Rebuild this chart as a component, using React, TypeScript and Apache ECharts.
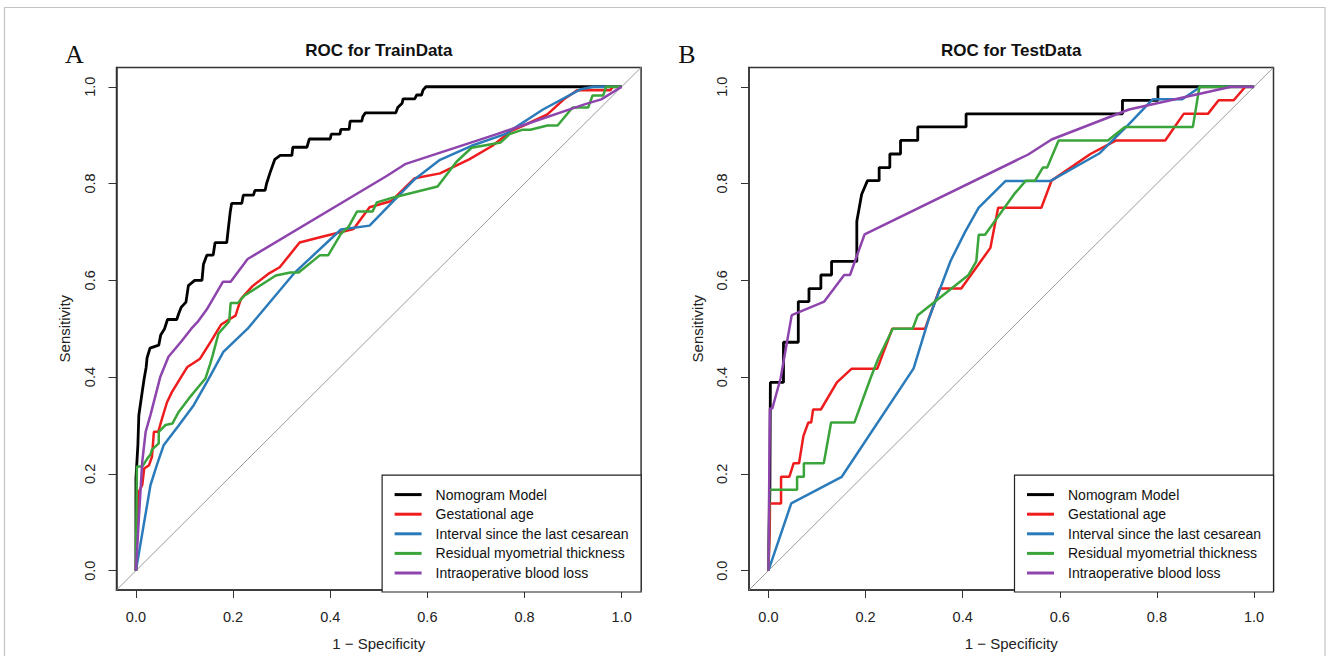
import React, { useEffect, useRef } from "react";
import * as echarts from "echarts";

// ---------- data (x = 1 - specificity, y = sensitivity) ----------
const tickValues = [0, 0.2, 0.4, 0.6, 0.8, 1.0];
const seriesNames = [
  "Nomogram Model",
  "Gestational age",
  "Interval since the last cesarean",
  "Residual myometrial thickness",
  "Intraoperative blood loss",
];
const seriesColors = ["#000000", "#EE1C1C", "#2B7BBA", "#3AA53A", "#8E44AD"];
const panelTitles = ["ROC for TrainData", "ROC for TestData"];
const panelLetters = ["A", "B"];

const trainNomogram = [
  [0, 0], [0, 0.19], [0.004, 0.259], [0.006, 0.321], [0.01, 0.349], [0.013, 0.37], [0.017, 0.397],
  [0.021, 0.42], [0.023, 0.44], [0.029, 0.46], [0.047, 0.466], [0.051, 0.487], [0.059, 0.5],
  [0.065, 0.519], [0.084, 0.519], [0.088, 0.531], [0.093, 0.544], [0.103, 0.555], [0.108, 0.589],
  [0.121, 0.6], [0.136, 0.6], [0.139, 0.633], [0.146, 0.652], [0.159, 0.652], [0.163, 0.678],
  [0.187, 0.678], [0.19, 0.705], [0.194, 0.74], [0.197, 0.759], [0.218, 0.759], [0.221, 0.776],
  [0.242, 0.776], [0.245, 0.786], [0.266, 0.786], [0.269, 0.8], [0.276, 0.822], [0.286, 0.85],
  [0.297, 0.858], [0.321, 0.858], [0.323, 0.875], [0.352, 0.875], [0.357, 0.892], [0.4, 0.892],
  [0.402, 0.902], [0.42, 0.902], [0.422, 0.912], [0.439, 0.912], [0.441, 0.929], [0.465, 0.929],
  [0.467, 0.938], [0.472, 0.946], [0.535, 0.946], [0.539, 0.957], [0.548, 0.966], [0.55, 0.975],
  [0.574, 0.975], [0.578, 0.983], [0.588, 0.983], [0.591, 0.993], [0.597, 1.0], [1, 1],
];
const trainGestational = [
  [0, 0], [0.003, 0.09], [0.006, 0.163], [0.013, 0.177], [0.017, 0.211], [0.027, 0.218],
  [0.033, 0.235], [0.037, 0.287], [0.046, 0.287], [0.054, 0.315], [0.064, 0.348], [0.074, 0.369],
  [0.091, 0.397], [0.106, 0.421], [0.132, 0.438], [0.155, 0.475], [0.175, 0.508], [0.19, 0.518],
  [0.205, 0.527], [0.216, 0.561], [0.24, 0.588], [0.275, 0.615], [0.296, 0.627], [0.337, 0.678],
  [0.379, 0.689], [0.448, 0.706], [0.481, 0.751], [0.526, 0.764], [0.574, 0.811], [0.626, 0.821],
  [0.686, 0.85], [0.734, 0.878], [0.773, 0.909], [0.803, 0.922], [0.847, 0.943], [0.881, 0.974],
  [0.909, 0.993], [0.977, 0.993], [0.981, 1.0], [1, 1],
];
const trainInterval = [
  [0, 0], [0.03, 0.177], [0.043, 0.218], [0.057, 0.259], [0.088, 0.3], [0.119, 0.342],
  [0.15, 0.397], [0.18, 0.452], [0.23, 0.5], [0.327, 0.616], [0.422, 0.705], [0.481, 0.713],
  [0.574, 0.809], [0.626, 0.849], [0.691, 0.878], [0.76, 0.902], [0.838, 0.953], [0.916, 0.995],
  [0.942, 1.0], [1, 1],
];
const trainResidual = [
  [0, 0], [0.002, 0.215], [0.013, 0.215], [0.023, 0.231], [0.03, 0.24], [0.033, 0.25],
  [0.047, 0.263], [0.047, 0.287], [0.061, 0.301], [0.075, 0.304], [0.088, 0.328], [0.109, 0.356],
  [0.143, 0.397], [0.153, 0.428], [0.158, 0.445], [0.17, 0.49], [0.192, 0.515], [0.195, 0.553],
  [0.21, 0.553], [0.223, 0.568], [0.288, 0.61], [0.318, 0.616], [0.335, 0.616], [0.379, 0.652],
  [0.396, 0.652], [0.422, 0.696], [0.438, 0.711], [0.455, 0.742], [0.487, 0.742], [0.496, 0.761],
  [0.53, 0.771], [0.621, 0.794], [0.66, 0.845], [0.691, 0.874], [0.751, 0.885], [0.769, 0.902],
  [0.795, 0.911], [0.812, 0.911], [0.847, 0.92], [0.868, 0.92], [0.899, 0.957], [0.931, 0.957],
  [0.94, 0.982], [0.962, 0.982], [0.968, 1.0], [1, 1],
];
const trainBloodLoss = [
  [0, 0], [0.006, 0.108], [0.013, 0.225], [0.02, 0.287], [0.03, 0.322], [0.05, 0.4],
  [0.067, 0.442], [0.093, 0.473], [0.114, 0.5], [0.127, 0.514], [0.146, 0.54], [0.179, 0.597],
  [0.195, 0.597], [0.23, 0.644], [0.517, 0.816], [0.554, 0.84], [0.743, 0.902], [0.795, 0.92],
  [0.925, 0.964], [0.958, 0.974], [1, 1],
];

const testNomogram = [
  [0, 0], [0.003, 0.167], [0.004, 0.389], [0.031, 0.389], [0.031, 0.472], [0.0615, 0.472],
  [0.0615, 0.556], [0.0835, 0.556], [0.0835, 0.583], [0.108, 0.583], [0.108, 0.611], [0.13, 0.611],
  [0.13, 0.639], [0.182, 0.639], [0.182, 0.722], [0.187, 0.75], [0.192, 0.778], [0.204, 0.806],
  [0.228, 0.806], [0.228, 0.833], [0.25, 0.833], [0.25, 0.861], [0.272, 0.861], [0.272, 0.889],
  [0.3075, 0.889], [0.3075, 0.917], [0.407, 0.917], [0.407, 0.944], [0.729, 0.944], [0.729, 0.972],
  [0.802, 0.972], [0.802, 1], [1, 1],
];
const testGestational = [
  [0, 0], [0.003, 0.108], [0.003, 0.139], [0.026, 0.139], [0.026, 0.194], [0.043, 0.194],
  [0.052, 0.222], [0.063, 0.222], [0.072, 0.278], [0.082, 0.306], [0.088, 0.306], [0.092, 0.333],
  [0.108, 0.333], [0.141, 0.389], [0.171, 0.417], [0.224, 0.417], [0.255, 0.5], [0.3225, 0.5],
  [0.353, 0.583], [0.397, 0.583], [0.457, 0.667], [0.473, 0.75], [0.562, 0.75], [0.583, 0.806],
  [0.663, 0.861], [0.716, 0.889], [0.817, 0.889], [0.855, 0.944], [0.905, 0.944], [0.927, 0.972],
  [0.958, 0.972], [0.982, 1.0], [1, 1],
];
const testInterval = [
  [0, 0], [0.047, 0.139], [0.151, 0.194], [0.299, 0.418], [0.33, 0.52], [0.375, 0.64],
  [0.405, 0.7], [0.433, 0.75], [0.488, 0.805], [0.58, 0.805], [0.681, 0.862], [0.74, 0.92],
  [0.791, 0.974], [0.852, 0.974], [0.89, 1.0], [1, 1],
];
const testResidual = [
  [0, 0], [0.002, 0.167], [0.059, 0.167], [0.059, 0.194], [0.073, 0.194], [0.073, 0.222],
  [0.114, 0.222], [0.129, 0.306], [0.177, 0.306], [0.21, 0.397], [0.226, 0.438], [0.256, 0.5],
  [0.297, 0.5], [0.3075, 0.528], [0.412, 0.611], [0.428, 0.639], [0.433, 0.694], [0.446, 0.694],
  [0.506, 0.778], [0.53, 0.806], [0.549, 0.806], [0.565, 0.833], [0.574, 0.833], [0.5975, 0.889],
  [0.699, 0.889], [0.734, 0.917], [0.874, 0.917], [0.8875, 1.0], [1, 1],
];
const testBloodLoss = [
  [0, 0], [0.003, 0.335], [0.008, 0.335], [0.025, 0.397], [0.048, 0.528], [0.115, 0.556],
  [0.156, 0.611], [0.168, 0.611], [0.198, 0.695], [0.535, 0.86], [0.583, 0.891], [0.7425, 0.953],
  [0.953, 1.0], [1, 1],
];

const trainCurves = [trainNomogram, trainGestational, trainInterval, trainResidual, trainBloodLoss];
const testCurves = [testNomogram, testGestational, testInterval, testResidual, testBloodLoss];
const diagonal = [[-0.04, -0.04], [1.04, 1.04]];

// ---------- layout ----------
const FONT = "'Liberation Sans', Arial, Helvetica, sans-serif";
const W = 1328;
const H = 656;
const grids = [
  { left: 116.5, top: 67.4, width: 524.6, height: 524.6 },
  { left: 749, top: 67.4, width: 524.5, height: 524.6 },
];

export default function App() {
  const ref = useRef<HTMLDivElement>(null);

  useEffect(() => {
    if (!ref.current) return;
    const chart = echarts.init(ref.current, undefined, { renderer: "svg" });

    const xAxes: any[] = [];
    const yAxes: any[] = [];
    grids.forEach((g, i) => {
      const common = {
        gridIndex: i,
        type: "value",
        min: -0.04,
        max: 1.04,
        axisLine: { show: true, onZero: false, lineStyle: { color: "#333", width: 1.5 } },
        splitLine: { show: false },
        axisTick: {
          show: true,
          inside: false,
          length: 8,
          customValues: tickValues,
          lineStyle: { color: "#333", width: 1 },
        },
        axisLabel: {
          customValues: tickValues,
          formatter: (v: number) => v.toFixed(1),
          fontSize: 14.5,
          fontFamily: FONT,
          color: "#222",
          margin: 19.5,
        },
        nameLocation: "middle",
        nameTextStyle: { fontSize: 15, fontFamily: FONT, color: "#222" },
      };
      xAxes.push({ ...common, position: "bottom", name: "1 \u2212 Specificity", nameGap: 46 });
      yAxes.push({
        ...common,
        position: "left",
        name: "Sensitivity",
        nameGap: 44.5,
        axisLabel: { ...common.axisLabel, rotate: 90 },
      });
    });

    const series: any[] = [];
    [trainCurves, testCurves].forEach((curves, gi) => {
      series.push({
        name: "diag",
        type: "line",
        xAxisIndex: gi,
        yAxisIndex: gi,
        data: diagonal,
        symbol: "none",
        silent: true,
        lineStyle: { color: "#9a9a9a", width: 1 },
        z: 1,
      });
      curves.forEach((d, ci) => {
        series.push({
          name: seriesNames[ci],
          type: "line",
          xAxisIndex: gi,
          yAxisIndex: gi,
          data: d,
          symbol: "none",
          showSymbol: false,
          color: seriesColors[ci],
          itemStyle: { color: seriesColors[ci] },
          lineStyle: { color: seriesColors[ci], width: ci === 0 ? 2.8 : 2.5 },
          z: 2 + ci,
        });
      });
    });

    const legends = grids.map((g) => ({
      orient: "vertical",
      right: W - (g.left + g.width),
      bottom: H - (g.top + g.height),
      data: seriesNames,
      icon: "rect",
      itemWidth: 27,
      itemHeight: 3,
      itemGap: 5.6,
      padding: [12.5, 12.5, 12, 12.5],
      backgroundColor: "#ffffff",
      borderColor: "#222",
      borderWidth: 1.2,
      borderRadius: 0,
      selectedMode: false,
      itemStyle: { borderWidth: 0 },
      textStyle: {
        fontSize: 14,
        fontFamily: FONT,
        color: "#111",
        lineHeight: 14,
        padding: [0, 0, 0, 9],
      },
    }));

    const graphics: any[] = [
      {
        type: "rect",
        shape: { x: 4.5, y: 7.5, width: 1320.5, height: 700 },
        style: { fill: "none", stroke: "#c4c4c4", lineWidth: 1.2 },
        silent: true,
        z: 0,
      },
    ];
    grids.forEach((g, i) => {
      graphics.push({
        type: "text",
        x: g.left + g.width / 2,
        y: 50,
        style: {
          text: panelTitles[i],
          fontSize: 17,
          fontWeight: "bold",
          fontFamily: FONT,
          fill: "#111",
          align: "center",
          verticalAlign: "middle",
        },
      });
      graphics.push({
        type: "text",
        x: i === 0 ? 74.5 : 687,
        y: 54,
        style: {
          text: panelLetters[i],
          fontSize: 26,
          fontFamily: "'Liberation Serif', 'Times New Roman', serif",
          fill: "#111",
          align: "center",
          verticalAlign: "middle",
        },
      });
    });

    chart.setOption({
      animation: false,
      backgroundColor: "#ffffff",
      grid: grids.map((g) => ({
        ...g,
        show: true,
        borderColor: "#333",
        borderWidth: 1.5,
        backgroundColor: "transparent",
        containLabel: false,
      })),
      xAxis: xAxes,
      yAxis: yAxes,
      legend: legends,
      series,
      graphic: graphics,
    });

    return () => chart.dispose();
  }, []);

  return (
    <div
      ref={ref}
      style={{ position: "absolute", left: 0, top: 0, width: W, height: H, background: "#fff" }}
    />
  );
}
